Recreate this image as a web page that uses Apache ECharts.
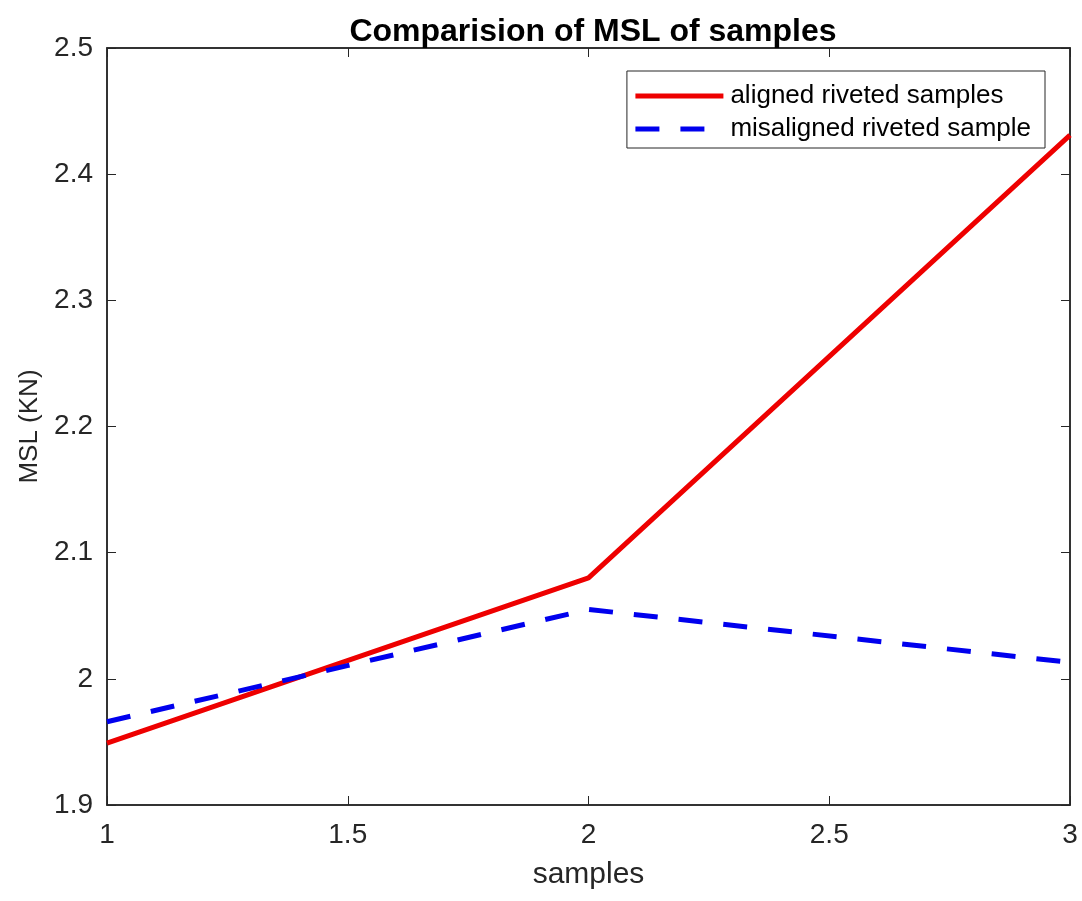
<!DOCTYPE html>
<html>
<head>
<meta charset="utf-8">
<script src="https://cdn.jsdelivr.net/npm/echarts@6/dist/echarts.min.js"></script>
<style>
html,body{margin:0;padding:0;background:#fff;}
#main{width:1082px;height:901px;}
</style>
</head>
<body>
<div id="main"></div>
<script>
// 数据
var samples = [1, 2, 3];
var aligned = [1.949, 2.080, 2.431];
var misaligned = [1.966, 2.055, 2.013];
var seriesNames = ['aligned riveted samples', 'misaligned riveted sample'];

function pairs(xs, ys){
	var arr = [];
	for(var i = 0; i < xs.length; i++){
		arr.push([xs[i], ys[i]]);
	}
	return arr;
}

var axisColor = '#262626';
var fontFam = '"Liberation Sans", Arial, sans-serif';

var myChart = echarts.init(document.getElementById('main'));

var option = {
	backgroundColor: '#fff',
	animation: false,
	title: {
		text: 'Comparision of MSL of samples',
		left: 588,
		textAlign: 'center',
		top: 11,
		textStyle: {fontFamily: fontFam, fontSize: 32, fontWeight: 'bold', color: '#000'}
	},
	legend: {
		orient: 'vertical',
		right: 37,
		top: 71,
		itemWidth: 88,
		itemHeight: 14,
		itemGap: 7,
		padding: [12, 14, 6, 6],
		borderColor: '#262626',
		borderWidth: 1,
		backgroundColor: '#fff',
		itemStyle: {opacity: 0, borderWidth: 0},
		lineStyle: {width: 5},
		textStyle: {fontFamily: fontFam, fontSize: 26, color: '#000', padding: [0, 0, 0, 2]},
		data: seriesNames
	},
	grid: {
		left: 107, right: 12, top: 48, bottom: 96,
		show: true, borderColor: axisColor, borderWidth: 1.5, backgroundColor: 'transparent'
	},
	xAxis: [{
		type: 'value', min: 1, max: 3, interval: 0.5,
		name: 'samples', nameLocation: 'middle', nameGap: 55,
		nameTextStyle: {fontFamily: fontFam, fontSize: 30, color: axisColor},
		axisLine: {show: true, lineStyle: {color: axisColor, width: 1.5}},
		axisTick: {show: true, inside: true, length: 9, lineStyle: {color: axisColor}},
		axisLabel: {fontFamily: fontFam, fontSize: 28, color: axisColor, margin: 16},
		splitLine: {show: false}
	}, {
		type: 'value', min: 1, max: 3, interval: 0.5, position: 'top',
		axisLine: {show: true, lineStyle: {color: axisColor, width: 1.5}},
		axisTick: {show: true, inside: true, length: 9, lineStyle: {color: axisColor}},
		axisLabel: {show: false},
		splitLine: {show: false}
	}],
	yAxis: [{
		type: 'value', min: 1.9, max: 2.5, interval: 0.1,
		name: 'MSL (KN)', nameLocation: 'middle', nameGap: 63,
		nameTextStyle: {fontFamily: fontFam, fontSize: 26, color: axisColor},
		axisLine: {show: true, lineStyle: {color: axisColor, width: 1.5}},
		axisTick: {show: true, inside: true, length: 9, lineStyle: {color: axisColor}},
		axisLabel: {fontFamily: fontFam, fontSize: 28, color: axisColor, margin: 14,
			formatter: function(v){ return String(Math.round(v * 10) / 10); }},
		splitLine: {show: false}
	}, {
		type: 'value', min: 1.9, max: 2.5, interval: 0.1, position: 'right',
		axisLine: {show: true, lineStyle: {color: axisColor, width: 1.5}},
		axisTick: {show: true, inside: true, length: 9, lineStyle: {color: axisColor}},
		axisLabel: {show: false},
		splitLine: {show: false}
	}],
	series: [{
		name: seriesNames[0],
		type: 'line',
		data: pairs(samples, aligned),
		symbol: 'none',
		color: '#ee0000',
		lineStyle: {color: '#ee0000', width: 5}
	}, {
		name: seriesNames[1],
		type: 'line',
		data: pairs(samples, misaligned),
		symbol: 'none',
		color: '#0000ee',
		lineStyle: {color: '#0000ee', width: 5, type: [24, 21]}
	}]
};

myChart.setOption(option);
</script>
</body>
</html>
